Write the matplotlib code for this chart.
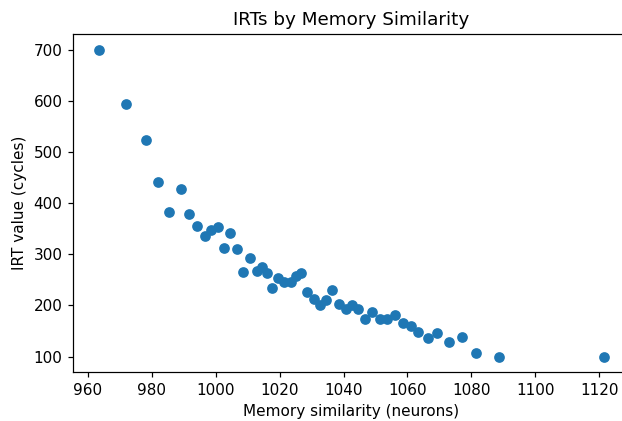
import matplotlib
matplotlib.use("Agg")
import matplotlib.pyplot as plt

similarity = [963.4, 971.9, 978.2, 981.9, 989.2, 985.4, 991.7, 994.2, 996.7, 998.6,
              1000.8, 1002.6, 1004.5, 1006.7, 1008.6, 1010.8, 1012.9, 1014.5, 1016.1, 1017.7,
              1019.6, 1021.4, 1023.6, 1025.2, 1026.8, 1028.7, 1030.8, 1032.7, 1034.6, 1036.5,
              1038.7, 1040.9, 1042.8, 1044.6, 1046.8, 1049.0, 1051.5, 1053.7, 1056.2, 1058.7,
              1061.0, 1063.4, 1066.3, 1069.1, 1072.9, 1077.0, 1081.3, 1088.5, 1121.4]
irt = [700, 594, 523, 441, 428, 382, 378, 355, 335, 347,
       353, 312, 341, 310, 265, 292, 267, 276, 263, 234,
       253, 245, 245, 257, 263, 227, 212, 200, 210, 230,
       202, 194, 200, 194, 173, 188, 173, 173, 182, 165,
       159, 149, 137, 147, 129, 139, 108, 100, 100]

dpi = 110
W, H = 622, 421
fig = plt.figure(figsize=(W / dpi, H / dpi), dpi=dpi)
left, right, top, bottom = 73.3, 629.1, 34.3, 372.0
ax = fig.add_axes([left / W, 1 - bottom / H, (right - left) / W, (bottom - top) / H])
ax.scatter(similarity, irt)
ax.set_xlim(955.5, 1129.3)
ax.set_ylim(70, 730)
ax.spines["right"].set_visible(False)
ax.set_title("IRTs by Memory Similarity")
ax.set_xlabel("Memory similarity (neurons)")
ax.set_ylabel("IRT value (cycles)")
fig.savefig("out.png", dpi=dpi)
